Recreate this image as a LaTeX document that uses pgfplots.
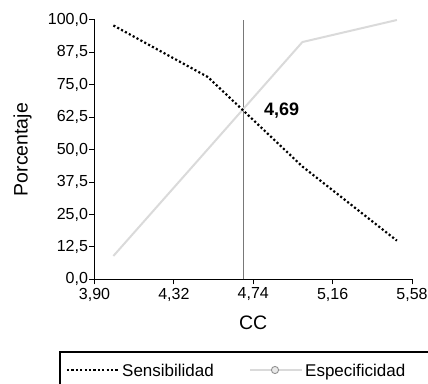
\documentclass[border=0pt]{standalone}
\usepackage{fontspec}
\setmainfont{Liberation Sans}
\usepackage{pgfplots}
\pgfplotsset{compat=1.18}

\definecolor{especgray}{RGB}{218,218,218}
\definecolor{cutgray}{RGB}{120,120,120}

\begin{document}
\begin{tikzpicture}[x=1pt,y=1pt]
\useasboundingbox (0,0) rectangle (428,383);
\begin{axis}[
  at={(94.5pt,103.7pt)}, anchor=origin,
  scale only axis, width=317.5pt, height=259.3pt,
  xmin=3.90, xmax=5.58, ymin=0, ymax=100,
  axis x line*=bottom, axis y line*=left,
  axis line style={-, black, line width=1pt},
  tick align=outside, major tick length=5pt,
  tick style={black, line width=1pt},
  xtick={3.90,4.32,4.74,5.16,5.58},
  ytick={0,12.5,25,37.5,50,62.5,75,87.5,100},
  /pgf/number format/assume math mode=true,
  /pgf/number format/use comma,
  xticklabel style={/pgf/number format/.cd, fixed, fixed zerofill, precision=2},
  yticklabel style={xshift=2pt, /pgf/number format/.cd, fixed, fixed zerofill, precision=1},
  tick label style={font=\fontsize{16}{19}\selectfont},
  every axis x label/.style={at={(axis description cs:0.5,0)}, anchor=center, yshift=-43pt},
  every axis y label/.style={at={(axis description cs:0,0.5)}, anchor=center, rotate=90, yshift=72pt},
  label style={font=\fontsize{19.5}{22}\selectfont},
  xlabel={CC}, ylabel={Porcentaje},
  clip=false,
]
% cut-off value
\addplot[cutgray, line width=0.9pt] coordinates {(4.69,0) (4.69,100)};
% Especificidad
\addplot[especgray, line width=2pt] coordinates {
  (4.0,9.0) (4.5,50.2) (5.0,91.5) (5.5,100.0)
};
% Sensibilidad
\addplot[black, line width=2.2pt, dash pattern=on 2.1pt off 2.3pt] coordinates {
  (4.0,97.9) (4.5,78.0) (5.0,43.5) (5.5,14.9)
};
\node[font=\bfseries\fontsize{18}{20}\selectfont] at (axis cs:4.89,65.2) {4,69};
\end{axis}
% legend
\draw[black, line width=1.3pt] (60,31) rectangle (445,-10);
\draw[black, line width=2.2pt, dash pattern=on 2.1pt off 2.3pt] (67,13) -- (118,13);
\node[anchor=base west, inner sep=0pt, font=\fontsize{17}{20}\selectfont] at (122,6.5) {Sensibilidad};
\draw[especgray, line width=2pt] (250,13) -- (302,13);
\draw[cutgray!80, fill=especgray!60, line width=0.9pt] (275,13) circle (3.6);
\node[anchor=base west, inner sep=0pt, font=\fontsize{17}{20}\selectfont] at (305,6.5) {Especificidad};
\end{tikzpicture}
\end{document}
